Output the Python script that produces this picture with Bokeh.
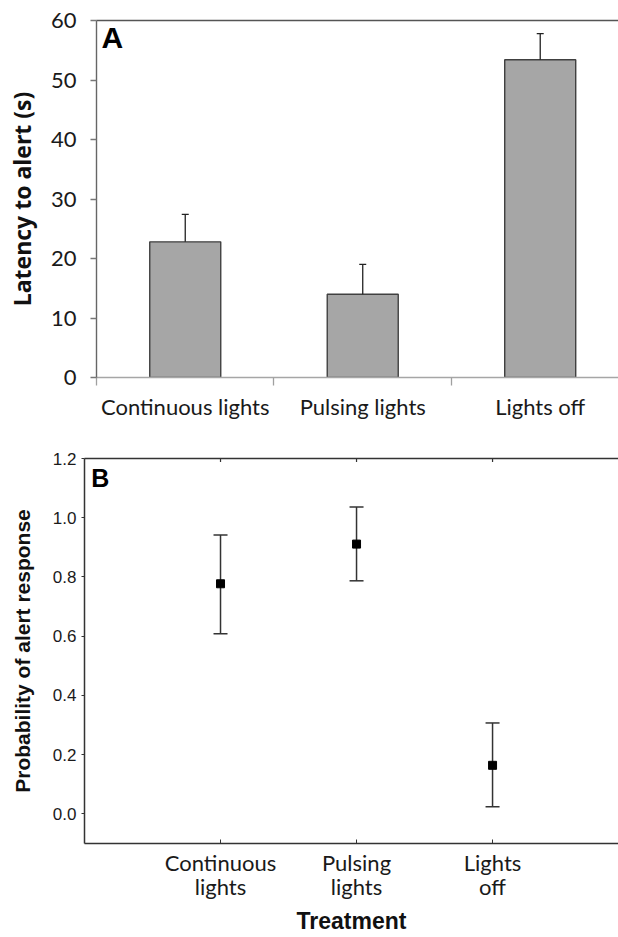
import math
from bokeh.plotting import figure
from bokeh.models import Range1d, FixedTicker, LinearAxis, Label, PrintfTickFormatter
from bokeh.embed import file_html
from bokeh.resources import INLINE

# ---- data: panel A (bar chart) ----
categories_a = ["Continuous lights", "Pulsing lights", "Lights off"]
latency_mean = [22.8, 14.0, 53.4]
latency_upper = [27.4, 19.0, 57.8]
y_ticks_a = [0, 10, 20, 30, 40, 50, 60]

# ---- data: panel B (probability with CI) ----
categories_b = ["Continuous\nlights", "Pulsing\nlights", "Lights\noff"]
prob_mean = [0.777, 0.911, 0.164]
prob_lower = [0.608, 0.787, 0.024]
prob_upper = [0.942, 1.036, 0.307]
y_ticks_b = [0.0, 0.2, 0.4, 0.6, 0.8, 1.0, 1.2]

LABEL_FONT = "Lato"
ARIAL = "Liberation Sans"

# ================= Panel A =================
xa = [i + 0.5 for i in range(len(categories_a))]
pa = figure(width=618, height=448, x_range=Range1d(0, 2.941), y_range=Range1d(0, 60),
            output_backend="svg", toolbar_location=None,
            min_border_left=96, min_border_right=0, min_border_top=20, min_border_bottom=71)
pa.outline_line_color = None
pa.grid.visible = False

pa.vbar(x=xa, top=latency_mean, bottom=0, width=0.4, fill_color="#a6a6a6",
        line_color="#404040", line_width=1.4)
pa.segment(x0=xa, y0=latency_mean, x1=xa, y1=latency_upper, line_color="#222222", line_width=1.3)
pa.scatter(x=xa, y=latency_upper, marker="dash", size=7, line_color="#222222", line_width=1.3)

xax = pa.xaxis[0]
xax.ticker = FixedTicker(ticks=xa, minor_ticks=[0, 1, 2, 3])
xax.major_label_overrides = {x: c for x, c in zip(xa, categories_a)}
xax.major_tick_out = 0
xax.major_tick_in = 0
xax.minor_tick_out = 8
xax.minor_tick_in = 0
xax.minor_tick_line_color = "#a0a0a0"
xax.minor_tick_line_width = 1.3
xax.axis_line_color = "#a6a6a6"
xax.axis_line_width = 1.5
xax.major_label_standoff = 7
xax.major_label_text_font = LABEL_FONT
xax.major_label_text_font_size = "22px"
xax.major_label_text_color = "#1a1a1a"

yax = pa.yaxis[0]
yax.ticker = FixedTicker(ticks=y_ticks_a)
yax.major_tick_out = 6
yax.major_tick_in = 0
yax.minor_tick_line_color = None
yax.major_tick_line_color = "#777777"
yax.major_tick_line_width = 1.3
yax.axis_line_color = "#666666"
yax.axis_line_width = 1.4
yax.major_label_standoff = 14
yax.major_label_text_font = LABEL_FONT
yax.major_label_text_font_size = "22px"
yax.major_label_text_color = "#1a1a1a"
yax.axis_label = "Latency to alert (s)"
yax.axis_label_text_font = "Open Sans"
yax.axis_label_text_font_style = "bold"
yax.axis_label_text_font_size = "23px"
yax.axis_label_text_color = "#111111"
yax.axis_label_standoff = 10

top_a = LinearAxis(ticker=FixedTicker(ticks=[]), axis_line_color="#555555", axis_line_width=1.5,
                   major_tick_line_color=None, minor_tick_line_color=None)
pa.add_layout(top_a, "above")

pa.add_layout(Label(x=0.028, y=57.1, text="A", text_font=ARIAL, text_font_style="bold",
                    text_font_size="30px", text_color="black", text_baseline="alphabetic"))

# ================= Panel B =================
xb = [i + 1 for i in range(len(categories_b))]
pb = figure(width=618, height=489, x_range=Range1d(0, 3.926), y_range=Range1d(-0.1, 1.2),
            output_backend="svg", toolbar_location=None,
            min_border_left=84, min_border_right=0, min_border_top=10, min_border_bottom=93)
pb.outline_line_color = None
pb.grid.visible = False

pb.segment(x0=xb, y0=prob_lower, x1=xb, y1=prob_upper, line_color="#333333", line_width=1.5)
pb.scatter(x=xb, y=prob_upper, marker="dash", size=14, line_color="#333333", line_width=1.5)
pb.scatter(x=xb, y=prob_lower, marker="dash", size=14, line_color="#333333", line_width=1.5)
pb.scatter(x=xb, y=prob_mean, marker="square", size=8, fill_color="black", line_color="black")

# small inward tick marks on the top border
pb.scatter(x=xb, y=[y_ticks_b[-1]] * len(xb), marker="dash", angle=math.pi / 2, size=7,
           line_color="#333333", line_width=1.2)

bx = pb.xaxis[0]
bx.ticker = FixedTicker(ticks=xb)
bx.major_label_overrides = {x: c for x, c in zip(xb, categories_b)}
bx.major_tick_out = 0
bx.major_tick_in = 4
bx.minor_tick_line_color = None
bx.major_tick_line_color = "#333333"
bx.axis_line_color = "#333333"
bx.axis_line_width = 1.5
bx.major_label_standoff = 5
bx.major_label_text_font = LABEL_FONT
bx.major_label_text_font_size = "22px"
bx.major_label_text_line_height = 0.92
bx.major_label_text_color = "#1a1a1a"
bx.axis_label = "Treatment"
bx.axis_label_text_font = ARIAL
bx.axis_label_text_font_style = "bold"
bx.axis_label_text_font_size = "23px"
bx.axis_label_text_color = "#111111"
bx.axis_label_standoff = 5

by = pb.yaxis[0]
by.ticker = FixedTicker(ticks=y_ticks_b)
by.formatter = PrintfTickFormatter(format="%.1f")
by.major_tick_out = 3
by.major_tick_in = 0
by.minor_tick_line_color = None
by.major_tick_line_color = "#333333"
by.axis_line_color = "#333333"
by.axis_line_width = 1.5
by.major_label_standoff = 5
by.major_label_text_font = ARIAL
by.major_label_text_font_size = "17px"
by.major_label_text_color = "#1a1a1a"
by.axis_label = "Probability of alert response"
by.axis_label_text_font = ARIAL
by.axis_label_text_font_style = "bold"
by.axis_label_text_font_size = "21px"
by.axis_label_text_color = "#111111"
by.axis_label_standoff = 16

top_b = LinearAxis(ticker=FixedTicker(ticks=[]), axis_line_color="#333333", axis_line_width=1.5,
                   major_tick_line_color=None, minor_tick_line_color=None)
pb.add_layout(top_b, "above")

pb.add_layout(Label(x=0.05, y=1.133, text="B", text_font=ARIAL, text_font_style="bold",
                    text_font_size="25px", text_color="black", text_baseline="alphabetic"))

# two independent roots stacked vertically (no frame alignment between panels)
open("out.html", "w").write(file_html([pa, pb], INLINE))
